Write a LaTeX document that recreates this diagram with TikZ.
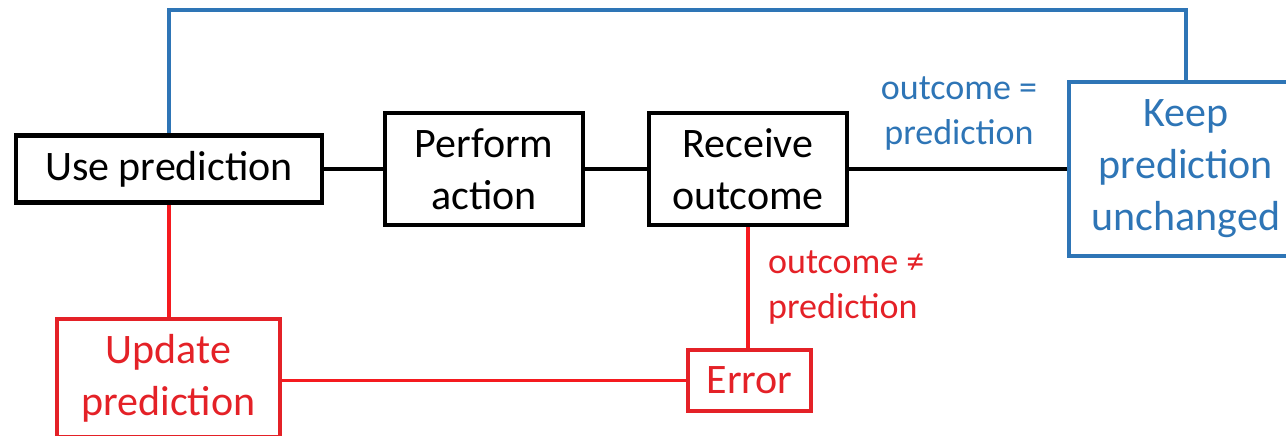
\documentclass[tikz,border=0pt]{standalone}
\usepackage{fontspec}
\setmainfont{Carlito}
\definecolor{keepblue}{HTML}{2E75B6}
\definecolor{errred}{HTML}{E42127}
\definecolor{linkred}{HTML}{F51A1F}
\tikzset{
  box/.style={draw=black, line width=4.5pt, align=center, inner sep=0pt,
    font=\fontsize{42}{52}\selectfont},
  bluebox/.style={box, draw=keepblue, text=keepblue},
  redbox/.style={box, draw=errred, text=errred},
  link/.style={line width=3.5pt, draw=black},
  bluelink/.style={link, draw=keepblue},
  redlink/.style={link, draw=linkred},
  cond/.style={inner sep=0pt, font=\fontsize{36}{45}\selectfont}
}
\begin{document}
\begin{tikzpicture}[x=1pt, y=-1pt]
  \useasboundingbox (0,0) rectangle (1286,436);
  \clip (0,0) rectangle (1286,436);

  % main chain
  \node[box, minimum width=306pt, minimum height=67pt] (use) at (169,169) {Use prediction};
  \node[box, minimum width=198pt, minimum height=112pt] (act) at (484,169) {Perform\\action};
  \node[box, minimum width=198pt, minimum height=112pt] (rec) at (748,169) {Receive\\outcome};
  \node[bluebox, minimum width=234pt, minimum height=174pt] (keep) at (1186,169) {Keep\\prediction\\unchanged};

  % error branch
  \node[redbox, minimum width=223pt, minimum height=118pt] (upd) at (168.5,378) {Update\\prediction};
  \node[redbox, minimum width=123pt, minimum height=61pt] (err) at (749.5,380.5) {Error};

  % branch conditions
  \node[cond, text=keepblue, align=center] (eq) at (959,114) {outcome =\\prediction};
  \node[cond, text=errred, align=left, anchor=west] (neq) at (768,288) {outcome ≠\\prediction};

  % connectors
  \coordinate (top) at (0,10);
  \draw[link] (use.east) -- (act.west);
  \draw[link] (act.east) -- (rec.west);
  \draw[link] (rec.east) -- (keep.west);
  \draw[bluelink] (keep.north) |- (use.north |- top) -- (use.north);
  \draw[redlink] (rec.south) -- (err.north -| rec.south);
  \draw[redlink] (err.west) -- (upd.east |- err.west);
  \draw[redlink] (use.south) -- (upd.north -| use.south);
\end{tikzpicture}
\end{document}
